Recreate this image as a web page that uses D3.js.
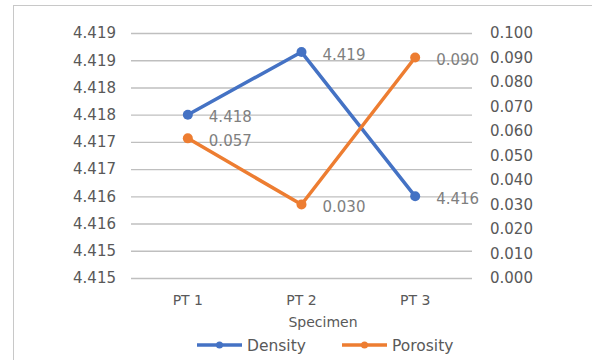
<!DOCTYPE html>
<html>
<head>
<meta charset="utf-8">
<script src="https://cdn.jsdelivr.net/npm/d3@7"></script>
<style>
  html, body { margin: 0; padding: 0; background: #fff; }
  svg { display: block; font-family: "DejaVu Sans", sans-serif; }
</style>
</head>
<body>
<svg id="chart" width="592" height="360"></svg>
<script>
const categories = ["PT 1", "PT 2", "PT 3"];
const densityValues = [4.4175, 4.41865, 4.4160];
const densityLabels = ["4.418", "4.419", "4.416"];
const porosityValues = [0.057, 0.030, 0.090];
const porosityLabels = ["0.057", "0.030", "0.090"];
const densityTicks = [4.4145, 4.4150, 4.4155, 4.4160, 4.4165, 4.4170, 4.4175, 4.4180, 4.4185, 4.4190];
const densityTickLabels = ["4.415", "4.415", "4.416", "4.416", "4.417", "4.417", "4.418", "4.418", "4.419", "4.419"];
const porosityTicks = [0, 0.01, 0.02, 0.03, 0.04, 0.05, 0.06, 0.07, 0.08, 0.09, 0.10];
const porosityTickLabels = ["0.000", "0.010", "0.020", "0.030", "0.040", "0.050", "0.060", "0.070", "0.080", "0.090", "0.100"];
const xTitle = "Specimen";
const seriesNames = ["Density", "Porosity"];

(function () {
const blue = "#4472C4", orange = "#ED7D31";
const svg = d3.select("#chart");

// chart frame (only left and top visible)
svg.append("rect").attr("x", 13.5).attr("y", 5.5).attr("width", 700).attr("height", 500)
  .attr("fill", "none").attr("stroke", "#c8c8c8").attr("stroke-width", 1);

const pL = 131, pR = 472, pT = 33, pB = 278;
const x = d3.scaleBand().domain(categories).range([pL, pR]);
const yD = d3.scaleLinear().domain([4.4145, 4.4190]).range([pB, pT]);
const yP = d3.scaleLinear().domain([0, 0.10]).range([pB, pT]);

// left axis with gridlines
const gL = svg.append("g").attr("transform", `translate(${pL},0)`)
  .call(d3.axisLeft(yD).tickValues(densityTicks)
    .tickFormat((d, i) => densityTickLabels[i])
    .tickSize(-(pR - pL)).tickPadding(15));
gL.select(".domain").remove();
gL.selectAll(".tick line").attr("stroke", "#bfbfbf").attr("stroke-width", 1.4);
gL.selectAll(".tick text").attr("fill", "#595959").style("font-size", "15px")
  .style("font-family", "DejaVu Sans");

// right axis labels
const gR = svg.append("g").attr("transform", `translate(${pR},0)`)
  .call(d3.axisRight(yP).tickValues(porosityTicks)
    .tickFormat((d, i) => porosityTickLabels[i])
    .tickSize(0).tickPadding(18));
gR.select(".domain").remove();
gR.selectAll(".tick text").attr("fill", "#595959").style("font-size", "15px")
  .style("font-family", "DejaVu Sans");

// bottom axis labels
const gB = svg.append("g").attr("transform", `translate(0,${pB})`)
  .call(d3.axisBottom(x).tickSize(0).tickPadding(17));
gB.select(".domain").remove();
gB.selectAll(".tick text").attr("fill", "#595959").style("font-size", "14px")
  .style("font-family", "DejaVu Sans");

svg.append("text").attr("x", 323).attr("y", 327).attr("text-anchor", "middle")
  .attr("fill", "#595959").style("font-size", "14px").text(xTitle);

const cx = d => x(d) + x.bandwidth() / 2;

function drawSeries(vals, labels, yS, color) {
  const pts = categories.map((c, i) => [cx(c), yS(vals[i])]);
  svg.append("path").attr("d", d3.line()(pts)).attr("fill", "none")
    .attr("stroke", color).attr("stroke-width", 3.5).attr("stroke-linejoin", "round");
  svg.append("g").selectAll("circle").data(pts).join("circle")
    .attr("cx", d => d[0]).attr("cy", d => d[1]).attr("r", 5).attr("fill", color);
  svg.append("g").selectAll("text").data(pts).join("text")
    .attr("x", d => d[0] + 21).attr("y", d => d[1] + 7.5)
    .attr("fill", "#7f7f7f").style("font-size", "15px")
    .text((d, i) => labels[i]);
}
drawSeries(densityValues, densityLabels, yD, blue);
drawSeries(porosityValues, porosityLabels, yP, orange);

// legend
const legend = [
  { name: seriesNames[0], color: blue, x0: 197 },
  { name: seriesNames[1], color: orange, x0: 342 }
];
const lg = svg.append("g").selectAll("g").data(legend).join("g")
  .attr("transform", d => `translate(${d.x0},345)`);
lg.append("line").attr("x1", 0).attr("x2", 45).attr("y1", 0).attr("y2", 0)
  .attr("stroke", d => d.color).attr("stroke-width", 3.5);
lg.append("circle").attr("cx", 22.5).attr("cy", 0).attr("r", 3.5).attr("fill", d => d.color);
lg.append("text").attr("x", 50).attr("y", 5.5).attr("fill", "#595959")
  .style("font-size", "15.5px").text(d => d.name);
})();
</script>
</body>
</html>
